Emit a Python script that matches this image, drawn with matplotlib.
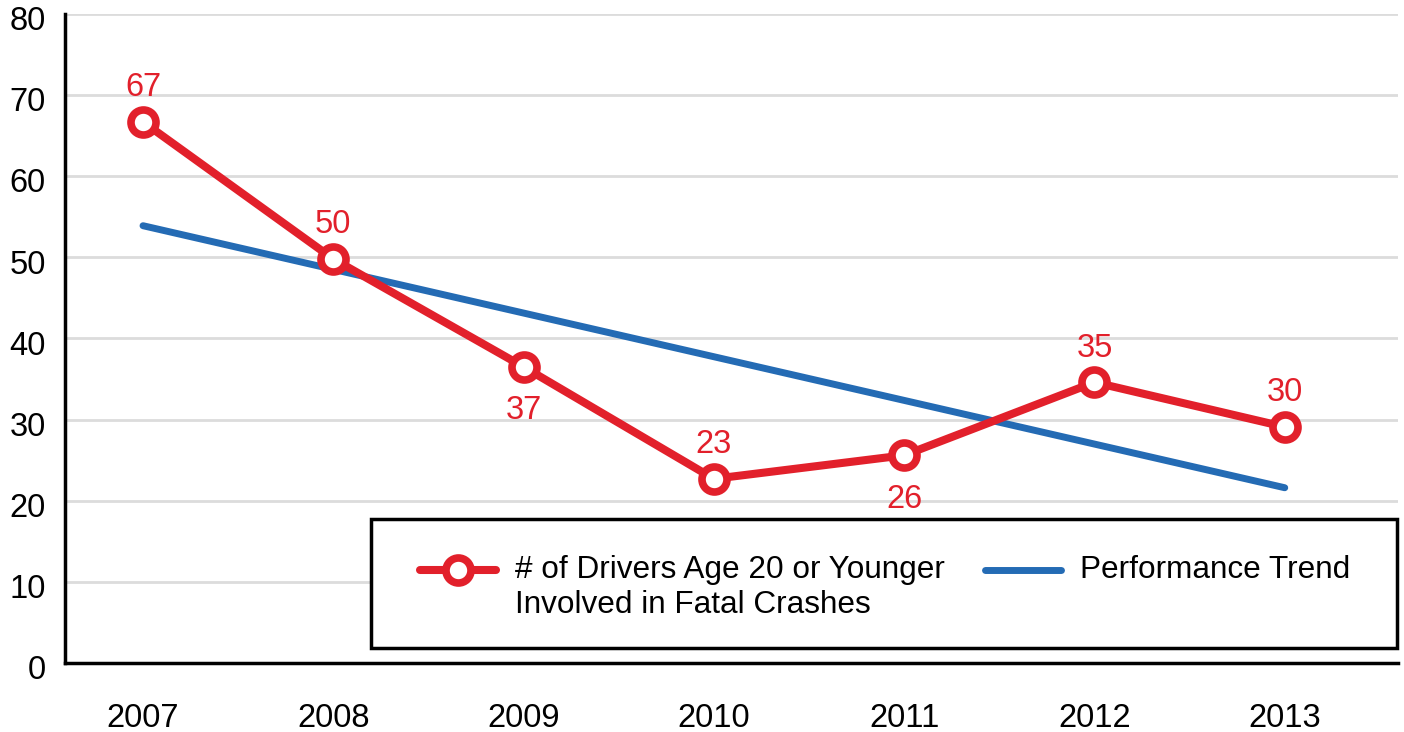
import matplotlib.pyplot as plt
from matplotlib.patches import Rectangle
from matplotlib.transforms import ScaledTranslation

plt.rcParams['font.family'] = ['Liberation Sans', 'DejaVu Sans']

years = ['2007', '2008', '2009', '2010', '2011', '2012', '2013']
drivers = [66.7, 49.8, 36.5, 22.7, 25.6, 34.6, 29.1]
labels = ['67', '50', '37', '23', '26', '35', '30']
label_side = [1, 1, -1, 1, -1, 1, 1]  # 1 = above, -1 = below
trend_years = [0, 6]
trend_vals = [53.9, 21.6]
yticks = [0, 10, 20, 30, 40, 50, 60, 70, 80]

red = '#e2202b'
blue = '#246bb4'

fig = plt.figure(figsize=(14.04, 7.32), dpi=100)
ax = fig.add_axes([0.0463, 0.0943, 0.9494, 0.8866])

ax.set_xlim(-0.41, 6.595)
ax.set_ylim(0, 80)
ax.set_yticks(yticks)
ax.set_xticks(range(len(years)))
ax.set_xticklabels(years)
ax.tick_params(axis='both', length=0, labelsize=23.5)
ax.tick_params(axis='y', pad=14)
ax.tick_params(axis='x', pad=28.5)
ax.grid(axis='y', color='#dcdcdc', linewidth=2)
ax.set_axisbelow(True)
for s in ['top', 'right']:
    ax.spines[s].set_visible(False)
for s in ['left', 'bottom']:
    ax.spines[s].set_linewidth(2.5)
    ax.spines[s].set_color('black')
# y labels sit a little below their grid lines
shift = ScaledTranslation(0, -3 / 72, fig.dpi_scale_trans)
for lab in ax.get_yticklabels():
    lab.set_transform(lab.get_transform() + shift)

x = list(range(len(years)))
ax.plot(trend_years, trend_vals, color=blue, linewidth=5, solid_capstyle='round',
        label='Performance Trend\n ', zorder=2)
ax.plot(x, drivers, color=red, linewidth=5.8, marker='o', markersize=18,
        markerfacecolor='white', markeredgecolor=red, markeredgewidth=5.5,
        solid_capstyle='round',
        label='# of Drivers Age 20 or Younger\nInvolved in Fatal Crashes', zorder=3)

for xi, v, t, side in zip(x, drivers, labels, label_side):
    off = 34 if side > 0 else -44
    ax.annotate(t, (xi, v), xytext=(0, off), textcoords='offset pixels',
                ha='center', va='center', color=red, fontsize=23.5)

# legend frame
ax.add_patch(Rectangle((0.2296, 0.0231), 0.7696, 0.1988, transform=ax.transAxes,
                       facecolor='white', edgecolor='black', linewidth=2.5,
                       zorder=5, clip_on=False))

h, l = ax.get_legend_handles_labels()
leg = ax.legend(h[::-1], l[::-1], ncol=2, loc='upper left',
                bbox_to_anchor=(0.2663, 0.1665), frameon=False, fontsize=22.7,
                handlelength=2.4, handletextpad=0.6, columnspacing=1.3,
                borderaxespad=0, borderpad=0, labelspacing=0)
leg.set_zorder(6)
# move the handles up to sit next to the first text line
for line in leg.legend_handles:
    line.set_ydata([y + 13 for y in line.get_ydata()])

fig.savefig('out.png', dpi=100)
